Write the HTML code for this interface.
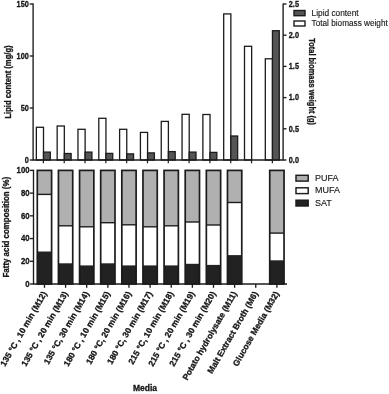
<!DOCTYPE html><html><head><meta charset="utf-8"><title>chart</title><style>html,body{margin:0;padding:0;background:#fff}svg{display:block}text{font-family:"Liberation Sans",sans-serif;fill:#151515}.b{font-weight:bold;font-size:8.2px;stroke:#151515;stroke-width:.3px}.r{font-size:8.3px;stroke:#151515;stroke-width:.12px}</style></head><body>
<svg width="389" height="394" viewBox="0 0 389 394">
<defs><filter id="f" x="0" y="0" width="1" height="1" filterUnits="objectBoundingBox"><feGaussianBlur stdDeviation="0.32"/></filter></defs><g filter="url(#f)">
<rect width="389" height="394" fill="#fff"/>
<rect x="36.35" y="127.30" width="7.15" height="32.70" fill="#fff" stroke="#1c1c1c" stroke-width="1.3"/>
<rect x="43.50" y="152.10" width="6.80" height="7.90" fill="#555" stroke="#1c1c1c" stroke-width="1.3"/>
<line x1="43.40" y1="160.00" x2="43.40" y2="163.30" stroke="#1c1c1c" stroke-width="1.2"/>
<rect x="57.17" y="126.00" width="7.15" height="34.00" fill="#fff" stroke="#1c1c1c" stroke-width="1.3"/>
<rect x="64.32" y="153.50" width="6.80" height="6.50" fill="#555" stroke="#1c1c1c" stroke-width="1.3"/>
<line x1="64.22" y1="160.00" x2="64.22" y2="163.30" stroke="#1c1c1c" stroke-width="1.2"/>
<rect x="77.98" y="129.30" width="7.15" height="30.70" fill="#fff" stroke="#1c1c1c" stroke-width="1.3"/>
<rect x="85.13" y="152.10" width="6.80" height="7.90" fill="#555" stroke="#1c1c1c" stroke-width="1.3"/>
<line x1="85.03" y1="160.00" x2="85.03" y2="163.30" stroke="#1c1c1c" stroke-width="1.2"/>
<rect x="98.80" y="118.30" width="7.15" height="41.70" fill="#fff" stroke="#1c1c1c" stroke-width="1.3"/>
<rect x="105.95" y="153.40" width="6.80" height="6.60" fill="#555" stroke="#1c1c1c" stroke-width="1.3"/>
<line x1="105.85" y1="160.00" x2="105.85" y2="163.30" stroke="#1c1c1c" stroke-width="1.2"/>
<rect x="119.61" y="129.30" width="7.15" height="30.70" fill="#fff" stroke="#1c1c1c" stroke-width="1.3"/>
<rect x="126.76" y="153.90" width="6.80" height="6.10" fill="#555" stroke="#1c1c1c" stroke-width="1.3"/>
<line x1="126.66" y1="160.00" x2="126.66" y2="163.30" stroke="#1c1c1c" stroke-width="1.2"/>
<rect x="140.43" y="132.40" width="7.15" height="27.60" fill="#fff" stroke="#1c1c1c" stroke-width="1.3"/>
<rect x="147.58" y="152.90" width="6.80" height="7.10" fill="#555" stroke="#1c1c1c" stroke-width="1.3"/>
<line x1="147.48" y1="160.00" x2="147.48" y2="163.30" stroke="#1c1c1c" stroke-width="1.2"/>
<rect x="161.24" y="121.40" width="7.15" height="38.60" fill="#fff" stroke="#1c1c1c" stroke-width="1.3"/>
<rect x="168.39" y="151.60" width="6.80" height="8.40" fill="#555" stroke="#1c1c1c" stroke-width="1.3"/>
<line x1="168.29" y1="160.00" x2="168.29" y2="163.30" stroke="#1c1c1c" stroke-width="1.2"/>
<rect x="182.06" y="114.30" width="7.15" height="45.70" fill="#fff" stroke="#1c1c1c" stroke-width="1.3"/>
<rect x="189.21" y="152.10" width="6.80" height="7.90" fill="#555" stroke="#1c1c1c" stroke-width="1.3"/>
<line x1="189.11" y1="160.00" x2="189.11" y2="163.30" stroke="#1c1c1c" stroke-width="1.2"/>
<rect x="202.87" y="114.50" width="7.15" height="45.50" fill="#fff" stroke="#1c1c1c" stroke-width="1.3"/>
<rect x="210.02" y="152.40" width="6.80" height="7.60" fill="#555" stroke="#1c1c1c" stroke-width="1.3"/>
<line x1="209.92" y1="160.00" x2="209.92" y2="163.30" stroke="#1c1c1c" stroke-width="1.2"/>
<rect x="223.69" y="13.90" width="7.15" height="146.10" fill="#fff" stroke="#1c1c1c" stroke-width="1.3"/>
<rect x="230.84" y="136.00" width="6.80" height="24.00" fill="#555" stroke="#1c1c1c" stroke-width="1.3"/>
<line x1="230.74" y1="160.00" x2="230.74" y2="163.30" stroke="#1c1c1c" stroke-width="1.2"/>
<rect x="244.50" y="46.30" width="7.15" height="113.70" fill="#fff" stroke="#1c1c1c" stroke-width="1.3"/>
<line x1="251.55" y1="160.00" x2="251.55" y2="163.30" stroke="#1c1c1c" stroke-width="1.2"/>
<rect x="265.31" y="58.80" width="7.15" height="101.20" fill="#fff" stroke="#1c1c1c" stroke-width="1.3"/>
<rect x="272.46" y="30.70" width="6.80" height="129.30" fill="#555" stroke="#1c1c1c" stroke-width="1.3"/>
<line x1="272.36" y1="160.00" x2="272.36" y2="163.30" stroke="#1c1c1c" stroke-width="1.2"/>
<path d="M33.1 3.4V160.0H283.1V3.4" fill="none" stroke="#1c1c1c" stroke-width="1.35"/>
<line x1="29.70" y1="160.00" x2="33.10" y2="160.00" stroke="#1c1c1c" stroke-width="1.35"/>
<text class="b" transform="translate(28.80 162.50) scale(0.83 1)" text-anchor="end" style="font-size:8.8px">0</text>
<line x1="29.70" y1="108.00" x2="33.10" y2="108.00" stroke="#1c1c1c" stroke-width="1.35"/>
<text class="b" transform="translate(28.80 110.50) scale(0.83 1)" text-anchor="end" style="font-size:8.8px">50</text>
<line x1="29.70" y1="56.00" x2="33.10" y2="56.00" stroke="#1c1c1c" stroke-width="1.35"/>
<text class="b" transform="translate(28.80 58.50) scale(0.83 1)" text-anchor="end" style="font-size:8.8px">100</text>
<line x1="29.70" y1="4.00" x2="33.10" y2="4.00" stroke="#1c1c1c" stroke-width="1.35"/>
<text class="b" transform="translate(28.80 6.50) scale(0.83 1)" text-anchor="end" style="font-size:8.8px">150</text>
<line x1="283.10" y1="160.00" x2="286.50" y2="160.00" stroke="#1c1c1c" stroke-width="1.35"/>
<text class="b" transform="translate(288.80 162.80) scale(0.83 1)" style="font-size:8.8px">0.0</text>
<line x1="283.10" y1="128.80" x2="286.50" y2="128.80" stroke="#1c1c1c" stroke-width="1.35"/>
<text class="b" transform="translate(288.80 131.60) scale(0.83 1)" style="font-size:8.8px">0.5</text>
<line x1="283.10" y1="97.60" x2="286.50" y2="97.60" stroke="#1c1c1c" stroke-width="1.35"/>
<text class="b" transform="translate(288.80 100.40) scale(0.83 1)" style="font-size:8.8px">1.0</text>
<line x1="283.10" y1="66.40" x2="286.50" y2="66.40" stroke="#1c1c1c" stroke-width="1.35"/>
<text class="b" transform="translate(288.80 69.20) scale(0.83 1)" style="font-size:8.8px">1.5</text>
<line x1="283.10" y1="35.20" x2="286.50" y2="35.20" stroke="#1c1c1c" stroke-width="1.35"/>
<text class="b" transform="translate(288.80 38.00) scale(0.83 1)" style="font-size:8.8px">2.0</text>
<line x1="283.10" y1="4.00" x2="286.50" y2="4.00" stroke="#1c1c1c" stroke-width="1.35"/>
<text class="b" transform="translate(288.80 6.80) scale(0.83 1)" style="font-size:8.8px">2.5</text>
<text class="b" transform="translate(11.00 82.00) rotate(-90) scale(0.93 1)" text-anchor="middle" style="font-size:8.2px">Lipid content (mg/g)</text>
<text class="b" transform="translate(308.80 81.60) rotate(90) scale(0.91 1)" text-anchor="middle" style="font-size:8.2px">Total biomass weight (g)</text>
<rect x="294.00" y="10.50" width="11.00" height="5.20" fill="#555" stroke="#1c1c1c" stroke-width="1.4"/>
<rect x="294.00" y="21.00" width="11.00" height="5.00" fill="#fff" stroke="#1c1c1c" stroke-width="1.4"/>
<text class="r" transform="translate(311.60 15.60)">Lipid content</text>
<text class="r" transform="translate(311.60 26.40) scale(0.988 1)">Total biomass weight</text>
<line x1="44.45" y1="284.00" x2="44.45" y2="287.80" stroke="#1c1c1c" stroke-width="1.35"/>
<rect x="37.30" y="170.40" width="14.30" height="24.00" fill="#b0b0b0"/>
<rect x="37.30" y="194.40" width="14.30" height="57.10" fill="#fff"/>
<rect x="37.30" y="251.50" width="14.30" height="32.50" fill="#222"/>
<line x1="37.30" y1="194.40" x2="51.60" y2="194.40" stroke="#1c1c1c" stroke-width="1.4"/>
<rect x="37.30" y="170.40" width="14.30" height="113.60" fill="none" stroke="#1c1c1c" stroke-width="1.7"/>
<line x1="65.58" y1="284.00" x2="65.58" y2="287.80" stroke="#1c1c1c" stroke-width="1.35"/>
<rect x="58.43" y="170.40" width="14.30" height="55.40" fill="#b0b0b0"/>
<rect x="58.43" y="225.80" width="14.30" height="37.50" fill="#fff"/>
<rect x="58.43" y="263.30" width="14.30" height="20.70" fill="#222"/>
<line x1="58.43" y1="225.80" x2="72.73" y2="225.80" stroke="#1c1c1c" stroke-width="1.4"/>
<rect x="58.43" y="170.40" width="14.30" height="113.60" fill="none" stroke="#1c1c1c" stroke-width="1.7"/>
<line x1="86.71" y1="284.00" x2="86.71" y2="287.80" stroke="#1c1c1c" stroke-width="1.35"/>
<rect x="79.56" y="170.40" width="14.30" height="56.40" fill="#b0b0b0"/>
<rect x="79.56" y="226.80" width="14.30" height="38.60" fill="#fff"/>
<rect x="79.56" y="265.40" width="14.30" height="18.60" fill="#222"/>
<line x1="79.56" y1="226.80" x2="93.86" y2="226.80" stroke="#1c1c1c" stroke-width="1.4"/>
<rect x="79.56" y="170.40" width="14.30" height="113.60" fill="none" stroke="#1c1c1c" stroke-width="1.7"/>
<line x1="107.84" y1="284.00" x2="107.84" y2="287.80" stroke="#1c1c1c" stroke-width="1.35"/>
<rect x="100.69" y="170.40" width="14.30" height="52.30" fill="#b0b0b0"/>
<rect x="100.69" y="222.70" width="14.30" height="40.60" fill="#fff"/>
<rect x="100.69" y="263.30" width="14.30" height="20.70" fill="#222"/>
<line x1="100.69" y1="222.70" x2="114.99" y2="222.70" stroke="#1c1c1c" stroke-width="1.4"/>
<rect x="100.69" y="170.40" width="14.30" height="113.60" fill="none" stroke="#1c1c1c" stroke-width="1.7"/>
<line x1="128.97" y1="284.00" x2="128.97" y2="287.80" stroke="#1c1c1c" stroke-width="1.35"/>
<rect x="121.82" y="170.40" width="14.30" height="54.40" fill="#b0b0b0"/>
<rect x="121.82" y="224.80" width="14.30" height="40.60" fill="#fff"/>
<rect x="121.82" y="265.40" width="14.30" height="18.60" fill="#222"/>
<line x1="121.82" y1="224.80" x2="136.12" y2="224.80" stroke="#1c1c1c" stroke-width="1.4"/>
<rect x="121.82" y="170.40" width="14.30" height="113.60" fill="none" stroke="#1c1c1c" stroke-width="1.7"/>
<line x1="150.10" y1="284.00" x2="150.10" y2="287.80" stroke="#1c1c1c" stroke-width="1.35"/>
<rect x="142.95" y="170.40" width="14.30" height="56.40" fill="#b0b0b0"/>
<rect x="142.95" y="226.80" width="14.30" height="38.60" fill="#fff"/>
<rect x="142.95" y="265.40" width="14.30" height="18.60" fill="#222"/>
<line x1="142.95" y1="226.80" x2="157.25" y2="226.80" stroke="#1c1c1c" stroke-width="1.4"/>
<rect x="142.95" y="170.40" width="14.30" height="113.60" fill="none" stroke="#1c1c1c" stroke-width="1.7"/>
<line x1="171.23" y1="284.00" x2="171.23" y2="287.80" stroke="#1c1c1c" stroke-width="1.35"/>
<rect x="164.08" y="170.40" width="14.30" height="55.40" fill="#b0b0b0"/>
<rect x="164.08" y="225.80" width="14.30" height="39.60" fill="#fff"/>
<rect x="164.08" y="265.40" width="14.30" height="18.60" fill="#222"/>
<line x1="164.08" y1="225.80" x2="178.38" y2="225.80" stroke="#1c1c1c" stroke-width="1.4"/>
<rect x="164.08" y="170.40" width="14.30" height="113.60" fill="none" stroke="#1c1c1c" stroke-width="1.7"/>
<line x1="192.36" y1="284.00" x2="192.36" y2="287.80" stroke="#1c1c1c" stroke-width="1.35"/>
<rect x="185.21" y="170.40" width="14.30" height="51.60" fill="#b0b0b0"/>
<rect x="185.21" y="222.00" width="14.30" height="41.80" fill="#fff"/>
<rect x="185.21" y="263.80" width="14.30" height="20.20" fill="#222"/>
<line x1="185.21" y1="222.00" x2="199.51" y2="222.00" stroke="#1c1c1c" stroke-width="1.4"/>
<rect x="185.21" y="170.40" width="14.30" height="113.60" fill="none" stroke="#1c1c1c" stroke-width="1.7"/>
<line x1="213.49" y1="284.00" x2="213.49" y2="287.80" stroke="#1c1c1c" stroke-width="1.35"/>
<rect x="206.34" y="170.40" width="14.30" height="54.60" fill="#b0b0b0"/>
<rect x="206.34" y="225.00" width="14.30" height="39.90" fill="#fff"/>
<rect x="206.34" y="264.90" width="14.30" height="19.10" fill="#222"/>
<line x1="206.34" y1="225.00" x2="220.64" y2="225.00" stroke="#1c1c1c" stroke-width="1.4"/>
<rect x="206.34" y="170.40" width="14.30" height="113.60" fill="none" stroke="#1c1c1c" stroke-width="1.7"/>
<line x1="234.62" y1="284.00" x2="234.62" y2="287.80" stroke="#1c1c1c" stroke-width="1.35"/>
<rect x="227.47" y="170.40" width="14.30" height="32.10" fill="#b0b0b0"/>
<rect x="227.47" y="202.50" width="14.30" height="52.60" fill="#fff"/>
<rect x="227.47" y="255.10" width="14.30" height="28.90" fill="#222"/>
<line x1="227.47" y1="202.50" x2="241.77" y2="202.50" stroke="#1c1c1c" stroke-width="1.4"/>
<rect x="227.47" y="170.40" width="14.30" height="113.60" fill="none" stroke="#1c1c1c" stroke-width="1.7"/>
<line x1="255.75" y1="284.00" x2="255.75" y2="287.80" stroke="#1c1c1c" stroke-width="1.35"/>
<line x1="276.88" y1="284.00" x2="276.88" y2="287.80" stroke="#1c1c1c" stroke-width="1.35"/>
<rect x="269.73" y="170.40" width="14.30" height="62.70" fill="#b0b0b0"/>
<rect x="269.73" y="233.10" width="14.30" height="27.20" fill="#fff"/>
<rect x="269.73" y="260.30" width="14.30" height="23.70" fill="#222"/>
<line x1="269.73" y1="233.10" x2="284.03" y2="233.10" stroke="#1c1c1c" stroke-width="1.4"/>
<rect x="269.73" y="170.40" width="14.30" height="113.60" fill="none" stroke="#1c1c1c" stroke-width="1.7"/>
<path d="M33.5 169.8V284.0H287" fill="none" stroke="#1c1c1c" stroke-width="1.35"/>
<line x1="29.90" y1="284.00" x2="33.50" y2="284.00" stroke="#1c1c1c" stroke-width="1.35"/>
<text class="b" transform="translate(29.60 286.70) scale(0.885 1)" text-anchor="end" style="font-size:8.8px">0</text>
<line x1="29.90" y1="261.28" x2="33.50" y2="261.28" stroke="#1c1c1c" stroke-width="1.35"/>
<text class="b" transform="translate(29.60 263.98) scale(0.885 1)" text-anchor="end" style="font-size:8.8px">20</text>
<line x1="29.90" y1="238.56" x2="33.50" y2="238.56" stroke="#1c1c1c" stroke-width="1.35"/>
<text class="b" transform="translate(29.60 241.26) scale(0.885 1)" text-anchor="end" style="font-size:8.8px">40</text>
<line x1="29.90" y1="215.84" x2="33.50" y2="215.84" stroke="#1c1c1c" stroke-width="1.35"/>
<text class="b" transform="translate(29.60 218.54) scale(0.885 1)" text-anchor="end" style="font-size:8.8px">60</text>
<line x1="29.90" y1="193.12" x2="33.50" y2="193.12" stroke="#1c1c1c" stroke-width="1.35"/>
<text class="b" transform="translate(29.60 195.82) scale(0.885 1)" text-anchor="end" style="font-size:8.8px">80</text>
<line x1="29.90" y1="170.40" x2="33.50" y2="170.40" stroke="#1c1c1c" stroke-width="1.35"/>
<text class="b" transform="translate(29.60 173.10) scale(0.885 1)" text-anchor="end" style="font-size:8.8px">100</text>
<text class="b" transform="translate(9.40 227.20) rotate(-90) scale(0.965 1)" text-anchor="middle">Fatty acid composition (%)</text>
<rect x="296.00" y="175.30" width="12.20" height="5.80" fill="#b0b0b0" stroke="#1c1c1c" stroke-width="1.45"/>
<text class="r" transform="translate(315.00 181.00)" style="font-size:9.0px">PUFA</text>
<rect x="296.00" y="187.80" width="12.20" height="5.80" fill="#fff" stroke="#1c1c1c" stroke-width="1.45"/>
<text class="r" transform="translate(315.00 193.30)" style="font-size:9.0px">MUFA</text>
<rect x="296.00" y="200.20" width="12.20" height="5.80" fill="#222" stroke="#1c1c1c" stroke-width="1.45"/>
<text class="r" transform="translate(315.00 205.70)" style="font-size:9.0px">SAT</text>
<text class="b" transform="translate(47.05 293.50) rotate(-60.2)" text-anchor="end" style="font-size:8.5px">135 °C , 10 min (M12)</text>
<text class="b" transform="translate(68.18 293.50) rotate(-60.2)" text-anchor="end" style="font-size:8.5px">135 °C , 20 min (M13)</text>
<text class="b" transform="translate(89.31 293.50) rotate(-60.2)" text-anchor="end" style="font-size:8.5px">135 °C, 30 min (M14)</text>
<text class="b" transform="translate(110.44 293.50) rotate(-60.2)" text-anchor="end" style="font-size:8.5px">180 °C , 10 min (M15)</text>
<text class="b" transform="translate(131.57 293.50) rotate(-60.2)" text-anchor="end" style="font-size:8.5px">180 °C, 20 min (M16)</text>
<text class="b" transform="translate(152.70 293.50) rotate(-60.2)" text-anchor="end" style="font-size:8.5px">180 °C, 30 min (M17)</text>
<text class="b" transform="translate(173.83 293.50) rotate(-60.2)" text-anchor="end" style="font-size:8.5px">215 °C, 10 min (M18)</text>
<text class="b" transform="translate(194.96 293.50) rotate(-60.2)" text-anchor="end" style="font-size:8.5px">215 °C , 20 min (M19)</text>
<text class="b" transform="translate(216.09 293.50) rotate(-60.2)" text-anchor="end" style="font-size:8.5px">215 °C , 30 min (M20)</text>
<text class="b" transform="translate(237.22 293.50) rotate(-60.2)" text-anchor="end" style="font-size:8.5px">Potato hydrolysate (M11)</text>
<text class="b" transform="translate(258.35 293.50) rotate(-60.2)" text-anchor="end" style="font-size:8.5px">Malt Extract Broth (M6)</text>
<text class="b" transform="translate(279.48 293.50) rotate(-60.2)" text-anchor="end" style="font-size:8.5px">Glucose Media (M32)</text>
<text class="b" transform="translate(145.00 390.80)" text-anchor="middle" style="font-size:8.5px">Media</text>
</g></svg></body></html>
